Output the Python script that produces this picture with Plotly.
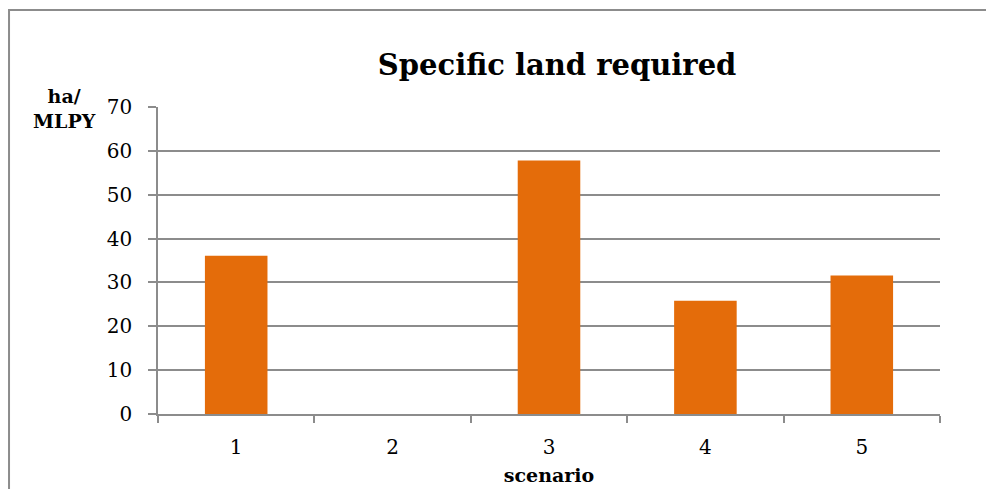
import plotly.graph_objects as go

# Specific land required per scenario (ha per MLPY)
scenarios = ["1", "2", "3", "4", "5"]
land_required = [36.1, 0, 57.8, 25.8, 31.6]
y_ticks = [0, 10, 20, 30, 40, 50, 60, 70]

BAR_COLOR = "#E46C0A"
GRID_COLOR = "#8C8C8C"
FONT = "DejaVu Serif"

fig = go.Figure(
    go.Bar(
        x=scenarios,
        y=land_required,
        marker=dict(color=BAR_COLOR, line=dict(width=0)),
        width=0.4,
    )
)

fig.update_layout(
    width=986,
    height=489,
    margin=dict(l=158, r=46, t=107, b=75, autoexpand=False),
    paper_bgcolor="white",
    plot_bgcolor="white",
    showlegend=False,
    font=dict(family=FONT, color="black", size=20),
    title=dict(
        text="<b>Specific land required</b>",
        x=0.565,
        xanchor="center",
        y=0.868,
        yanchor="middle",
        font=dict(family=FONT, size=29, color="black"),
    ),
)

fig.update_xaxes(
    type="category",
    range=[-0.5, 4.5],
    automargin=False,
    showline=True,
    linecolor=GRID_COLOR,
    linewidth=1.5,
    ticks="outside",
    tickson="boundaries",
    ticklen=7,
    tickcolor=GRID_COLOR,
    tickwidth=1.5,
    showgrid=False,
    ticklabelstandoff=14,
    tickfont=dict(family=FONT, size=20),
    title=dict(text="<b>scenario</b>", font=dict(family=FONT, size=19), standoff=11),
)

fig.update_yaxes(
    range=[0, 70],
    tickvals=y_ticks,
    automargin=False,
    showline=True,
    linecolor=GRID_COLOR,
    linewidth=1.5,
    ticks="outside",
    ticklen=8,
    tickcolor=GRID_COLOR,
    tickwidth=1.5,
    showgrid=True,
    gridcolor=GRID_COLOR,
    gridwidth=1.5,
    zeroline=False,
    ticklabelstandoff=12,
    tickfont=dict(family=FONT, size=20),
)

# y-axis unit label above the tick labels
fig.add_annotation(
    text="<b>ha/<br>MLPY</b>",
    xref="paper", yref="paper",
    x=-0.119, y=0.995,
    xanchor="center", yanchor="middle",
    showarrow=False,
    align="center",
    font=dict(family=FONT, size=19, color="black"),
)

# chart frame
fig.add_shape(
    type="rect",
    xref="paper", yref="paper",
    x0=-0.1905, x1=1.2, y0=-0.4, y1=1.316,
    line=dict(color="#8C8C8C", width=2),
    layer="below",
)

fig.write_html("out.html")
